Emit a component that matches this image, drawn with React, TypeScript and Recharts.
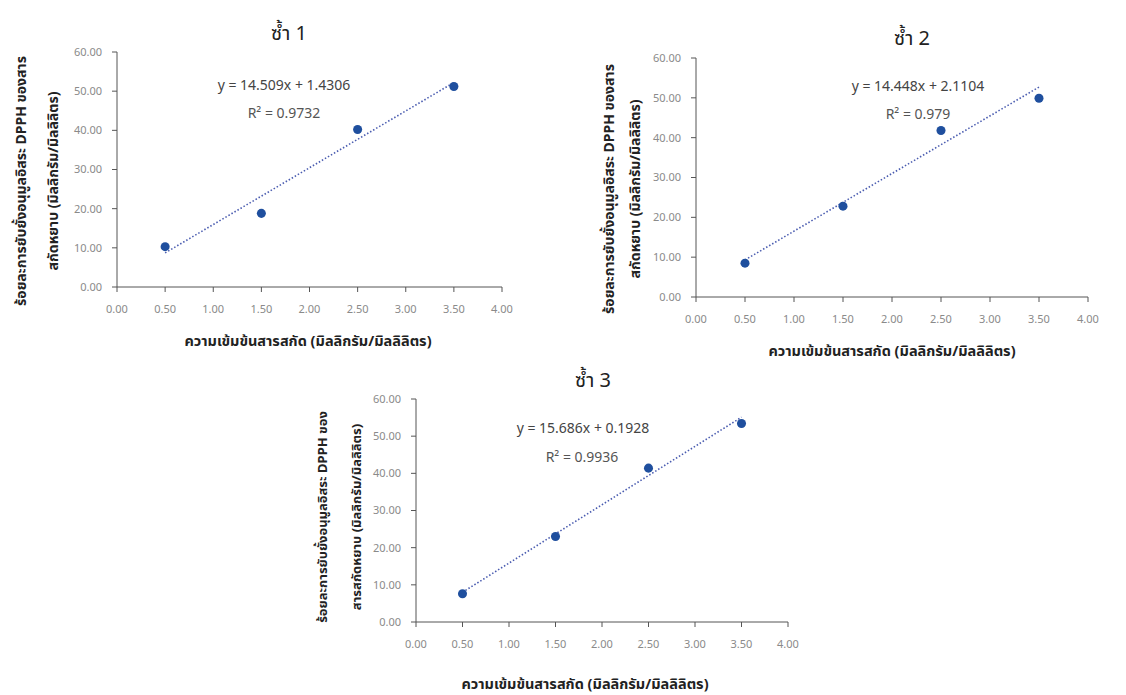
import React from "react"
import { ScatterChart, Scatter, XAxis, YAxis, ReferenceLine } from "recharts"

// x values are shared by the three replicates
const conc = [0.5, 1.5, 2.5, 3.5]
const rep1 = [10.3, 18.8, 40.2, 51.2]
const rep2 = [8.5, 22.8, 41.8, 49.9]
const rep3 = [7.6, 23.0, 41.4, 53.4]

// trendline end points (at x = 0.5 and x = 3.5)
const trend1 = [8.7, 52.2]
const trend2 = [9.3, 52.7]
const trend3 = [8.0, 55.1]

const equations = ["y = 14.509x + 1.4306", "y = 14.448x + 2.1104", "y = 15.686x + 0.1928"]
const rSquared = ["R² = 0.9732", "R² = 0.979", "R² = 0.9936"]
const titles = ["ซ้ำ 1", "ซ้ำ 2", "ซ้ำ 3"]

const xTicks = [0, 0.5, 1, 1.5, 2, 2.5, 3, 3.5, 4]
const yTicks = [0, 10, 20, 30, 40, 50, 60]

const xTitle = "ความเข้มข้นสารสกัด (มิลลิกรัม/มิลลิลิตร)"
const yTitles = [
  ["ร้อยละการยับยั้งอนุมูลอิสระ DPPH ของสาร", "สกัดหยาบ (มิลลิกรัม/มิลลิลิตร)"],
  ["ร้อยละการยับยั้งอนุมูลอิสระ DPPH ของสาร", "สกัดหยาบ (มิลลิกรัม/มิลลิลิตร)"],
  ["ร้อยละการยับยั้งอนุมูลอิสระ DPPH ของ", "สารสกัดหยาบ (มิลลิกรัม/มิลลิลิตร)"],
]

const FONT = "Tahoma, 'Noto Sans', 'Noto Sans Thai', sans-serif"
const Y_W = 50

// page positions of each plot area and its texts
const layouts = [
  { l: 117, r: 502, t: 52, b: 287, title: [289, 33], eq: [284, 85], r2: [284, 113], xt: [308, 340], yt: [[21, 181], [53, 181]], ys: 14 },
  { l: 696, r: 1088, t: 58, b: 297, title: [912, 38], eq: [918, 86], r2: [918, 114], xt: [892, 350], yt: [[609, 189], [635, 189]], ys: 14 },
  { l: 416, r: 788, t: 399, b: 622, title: [593, 380], eq: [583, 428], r2: [582, 457], xt: [585, 683], yt: [[322, 517], [356, 517]], ys: 13 },
]

const Txt = ({ at, size, color, bold, rotate, children }: any) => (
  <div
    style={{
      position: "absolute",
      left: at[0],
      top: at[1],
      transform: `translate(-50%, -50%)${rotate ? " rotate(-90deg)" : ""}`,
      whiteSpace: "nowrap",
      fontSize: size,
      color,
      fontWeight: bold ? 700 : 400,
      fontFamily: FONT,
      lineHeight: 1,
    }}
  >
    {children}
  </div>
)

function Replicate({ idx, values, trend }: { idx: number; values: number[]; trend: number[] }) {
  const lay = layouts[idx]
  const data = conc.map((x, i) => ({ x, y: values[i] }))
  const left = lay.l - Y_W - 10
  const top = lay.t - 10
  const width = lay.r - lay.l + Y_W + 30
  const height = lay.b - lay.t + 60
  const tick = { fontSize: 11, fill: "#8a8a8a", fontFamily: FONT }
  return (
    <>
      <div style={{ position: "absolute", left, top }}>
        <ScatterChart width={width} height={height} margin={{ top: 10, right: 20, bottom: 10, left: 10 }}>
          <XAxis
            type="number"
            dataKey="x"
            domain={[0, 4]}
            ticks={xTicks}
            interval={0}
            tickFormatter={(v: number) => v.toFixed(2)}
            height={40}
            tick={tick}
            tickSize={5}
            tickMargin={13}
            stroke="#555"
          />
          <YAxis
            type="number"
            dataKey="y"
            domain={[0, 60]}
            ticks={yTicks}
            interval={0}
            tickFormatter={(v: number) => v.toFixed(2)}
            width={Y_W}
            tick={tick}
            tickSize={5}
            tickMargin={10}
            stroke="#555"
          />
          <ReferenceLine
            segment={[
              { x: conc[0], y: trend[0] },
              { x: conc[conc.length - 1], y: trend[1] },
            ]}
            stroke="#4a5cb0"
            strokeWidth={1.6}
            strokeDasharray="1.5 2"
          />
          <Scatter data={data} fill="#1f4f9e" isAnimationActive={false} shape="circle" />
        </ScatterChart>
      </div>
      <Txt at={lay.title} size={20} color="#222">{titles[idx]}</Txt>
      <Txt at={lay.eq} size={14} color="#444">{equations[idx]}</Txt>
      <Txt at={lay.r2} size={14} color="#555">{rSquared[idx]}</Txt>
      <Txt at={lay.xt} size={14.5} color="#222" bold>{xTitle}</Txt>
      <Txt at={lay.yt[0]} size={lay.ys} color="#222" bold rotate>{yTitles[idx][0]}</Txt>
      <Txt at={lay.yt[1]} size={lay.ys} color="#222" bold rotate>{yTitles[idx][1]}</Txt>
    </>
  )
}

export default function App() {
  return (
    <div style={{ position: "absolute", left: 0, top: 0, width: 1126, height: 695, background: "#fff", overflow: "hidden" }}>
      <Replicate idx={0} values={rep1} trend={trend1} />
      <Replicate idx={1} values={rep2} trend={trend2} />
      <Replicate idx={2} values={rep3} trend={trend3} />
    </div>
  )
}
